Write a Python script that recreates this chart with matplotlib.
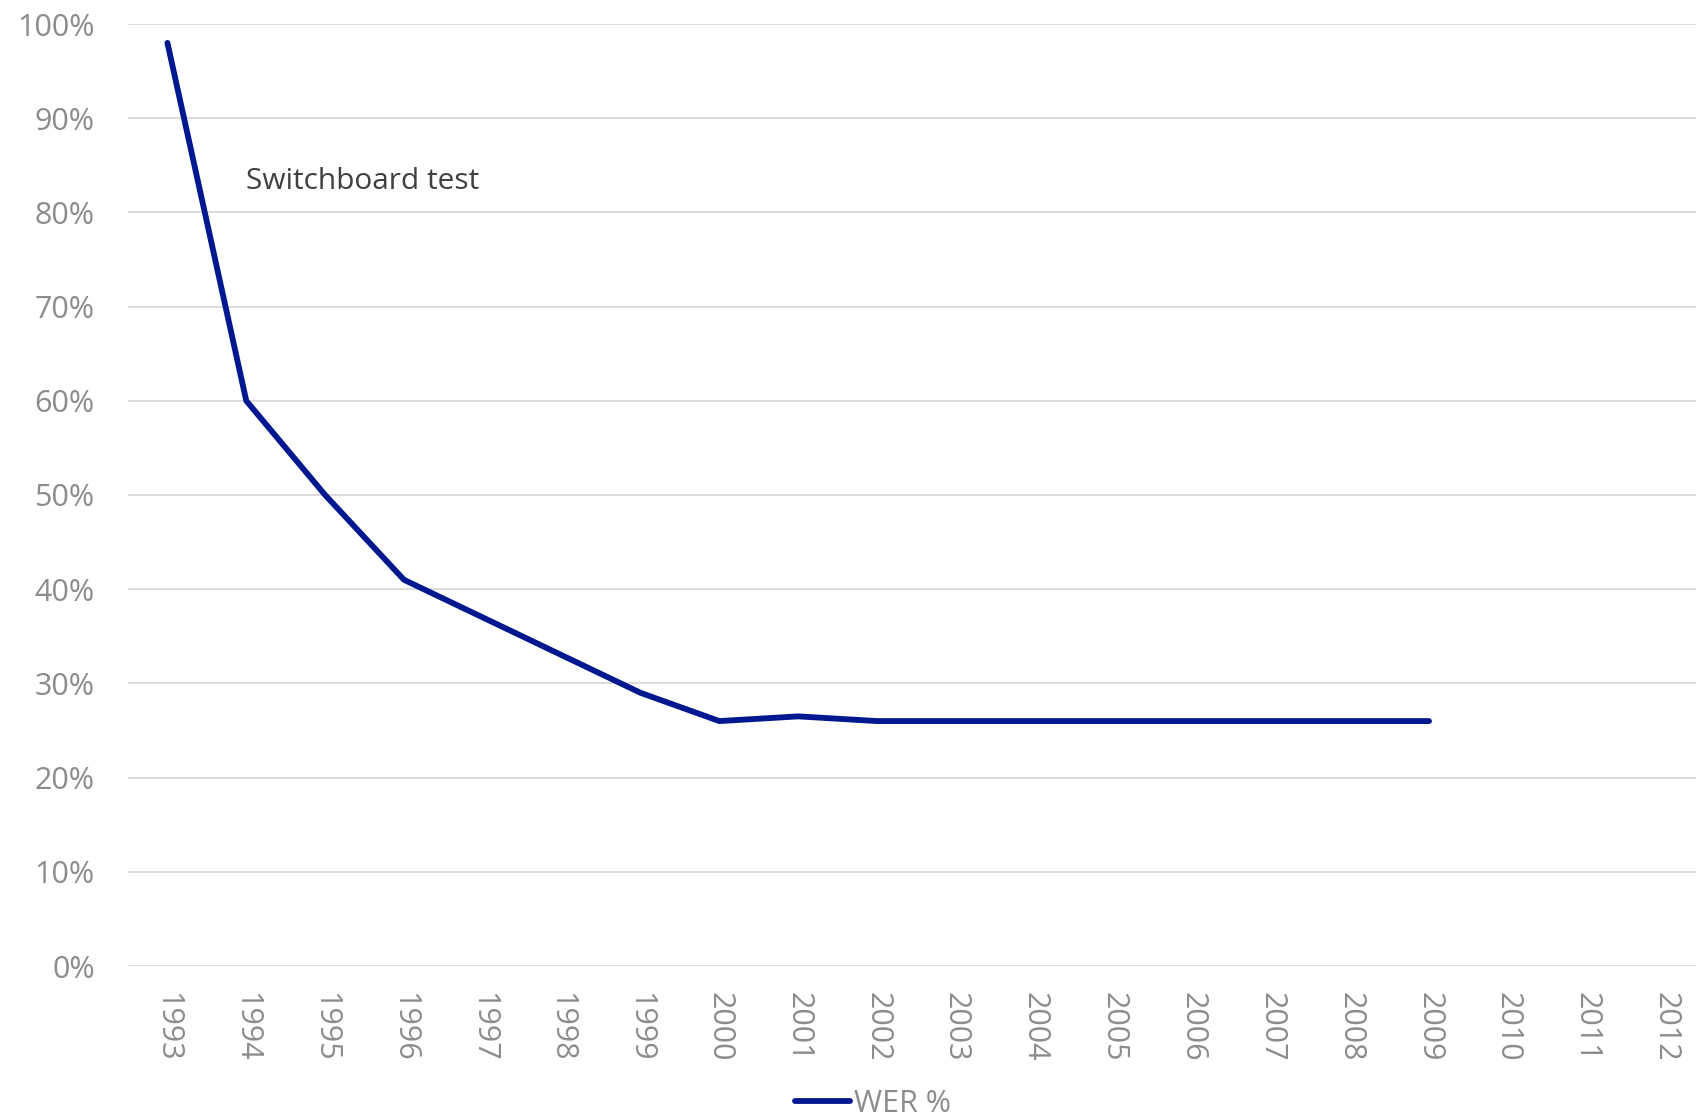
import matplotlib
matplotlib.use("Agg")
import matplotlib.pyplot as plt
import numpy as np

years = [str(y) for y in range(1993, 2013)]
wer = [98, 60, 50, 41, 37, 33, 29, 26, 26.5, 26, 26, 26, 26, 26, 26, 26, 26, np.nan, np.nan, np.nan]
yticks = [0, 10, 20, 30, 40, 50, 60, 70, 80, 90, 100]
ytick_labels = [f"{v}%" for v in yticks]

plt.rcParams['font.family'] = ['Open Sans', 'DejaVu Sans']

fig = plt.figure(figsize=(16.96, 11.19), dpi=100)
ax = fig.add_axes([128/1696, 1-966/1119, (1705-128)/1696, (966-24)/1119])

x = np.arange(len(years))
line, = ax.plot(x, wer, color='#00188F', linewidth=4.2, solid_capstyle='round',
                solid_joinstyle='round', label='WER %')

ax.set_xlim(-0.5, len(years) - 0.5)
ax.set_ylim(0, 100)
ax.set_yticks(yticks)
ax.set_yticklabels(ytick_labels)
ax.set_xticks(x)
ax.set_xticklabels(years, rotation=-90, va='top', ha='center')

ax.grid(axis='y', color='#d9d9d9', linewidth=1.3)
ax.set_axisbelow(True)
for s in ax.spines.values():
    s.set_visible(False)
ax.tick_params(axis='both', length=0, labelsize=22, labelcolor='#8c8c8c')
ax.tick_params(axis='y', pad=24)
ax.tick_params(axis='x', pad=19)

ax.text(1.0, 83.3, 'Switchboard test', fontsize=21.5, color='#404040',
        ha='left', va='center')

fig.legend(handles=[line], labels=['WER %'], loc='center',
           bbox_to_anchor=(873/1696, 1-1104/1119), frameon=False,
           fontsize=22, labelcolor='#8c8c8c', handlelength=1.8,
           handletextpad=0.1)

fig.savefig('out.png', dpi=100)
